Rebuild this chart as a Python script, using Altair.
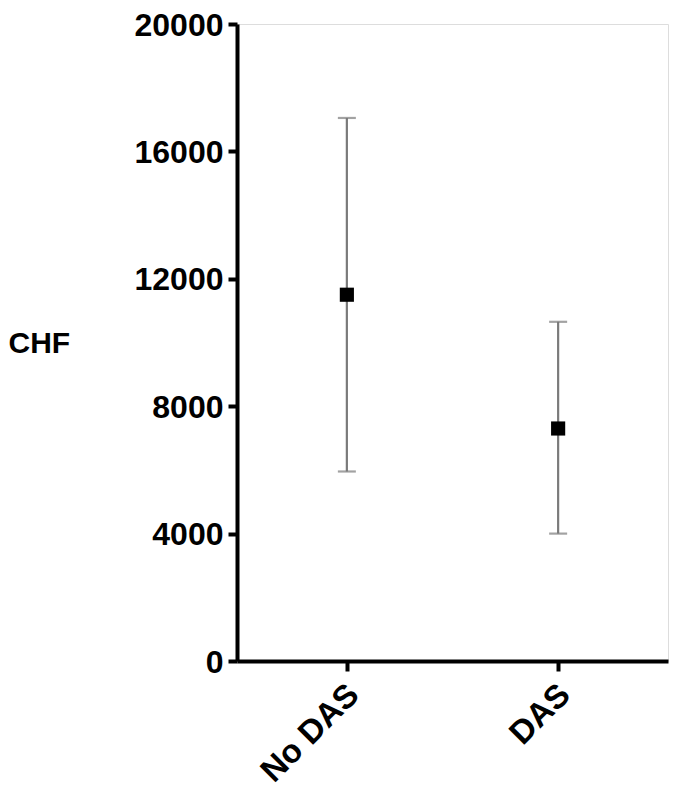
import altair as alt
import pandas as pd

groups = ["No DAS", "DAS"]
means = [11500, 7300]
lows = [5950, 4000]
highs = [17050, 10650]
y_ticks = [0, 4000, 8000, 12000, 16000, 20000]

df = pd.DataFrame({"group": groups, "mean": means, "low": lows, "high": highs})

FONT = "Liberation Sans"

x_enc = alt.X(
    "group:N",
    sort=groups,
    scale=alt.Scale(type="point", padding=0.52),
    axis=alt.Axis(
        title=None,
        labelAngle=-45,
        labelFont=FONT,
        labelFontWeight="bold",
        labelFontSize=33,
        labelColor="black",
        labelPadding=7,
        labelOffset=-5,
        domainColor="black",
        domainWidth=4,
        tickColor="black",
        tickWidth=4,
        tickSize=10,
    ),
)

y_scale = alt.Scale(domain=[0, 20000], nice=False)
y_axis = alt.Axis(
    values=y_ticks,
    format="d",
    title="CHF",
    titleAngle=0,
    titleAlign="left",
    titleBaseline="middle",
    titleX=-229,
    titleY=319,
    titleFont=FONT,
    titleFontWeight="bold",
    titleFontSize=30,
    titleColor="black",
    labelFont=FONT,
    labelFontWeight="bold",
    labelFontSize=32,
    labelColor="black",
    labelPadding=5,
    labelBaseline="alphabetic",
    labelOffset=11,
    domainColor="black",
    domainWidth=4,
    tickColor="black",
    tickWidth=4,
    tickSize=9,
    grid=False,
)

base = alt.Chart(df)

bars = base.mark_rule(color="#7a7a7a", strokeWidth=2.2).encode(
    x=x_enc,
    y=alt.Y("low:Q", scale=y_scale, axis=y_axis),
    y2="high:Q",
)

caps_low = base.mark_tick(color="#7a7a7a", size=18, thickness=2.2).encode(
    x=x_enc, y=alt.Y("low:Q", scale=y_scale)
)
caps_high = base.mark_tick(color="#7a7a7a", size=18, thickness=2.2).encode(
    x=x_enc, y=alt.Y("high:Q", scale=y_scale)
)

points = base.mark_square(color="black", size=200, opacity=1, filled=True).encode(
    x=x_enc, y=alt.Y("mean:Q", scale=y_scale)
)

chart = (
    alt.layer(bars, caps_low, caps_high, points)
    .properties(
        width=431,
        height=637,
        autosize=alt.AutoSizeParams(type="none"),
        padding={"left": 229, "top": 16, "right": 11, "bottom": 130},
    )
    .configure_view(stroke=None)
    .configure(background="white")
)

chart.save("out.html", embed_options={"renderer": "svg", "actions": False})
